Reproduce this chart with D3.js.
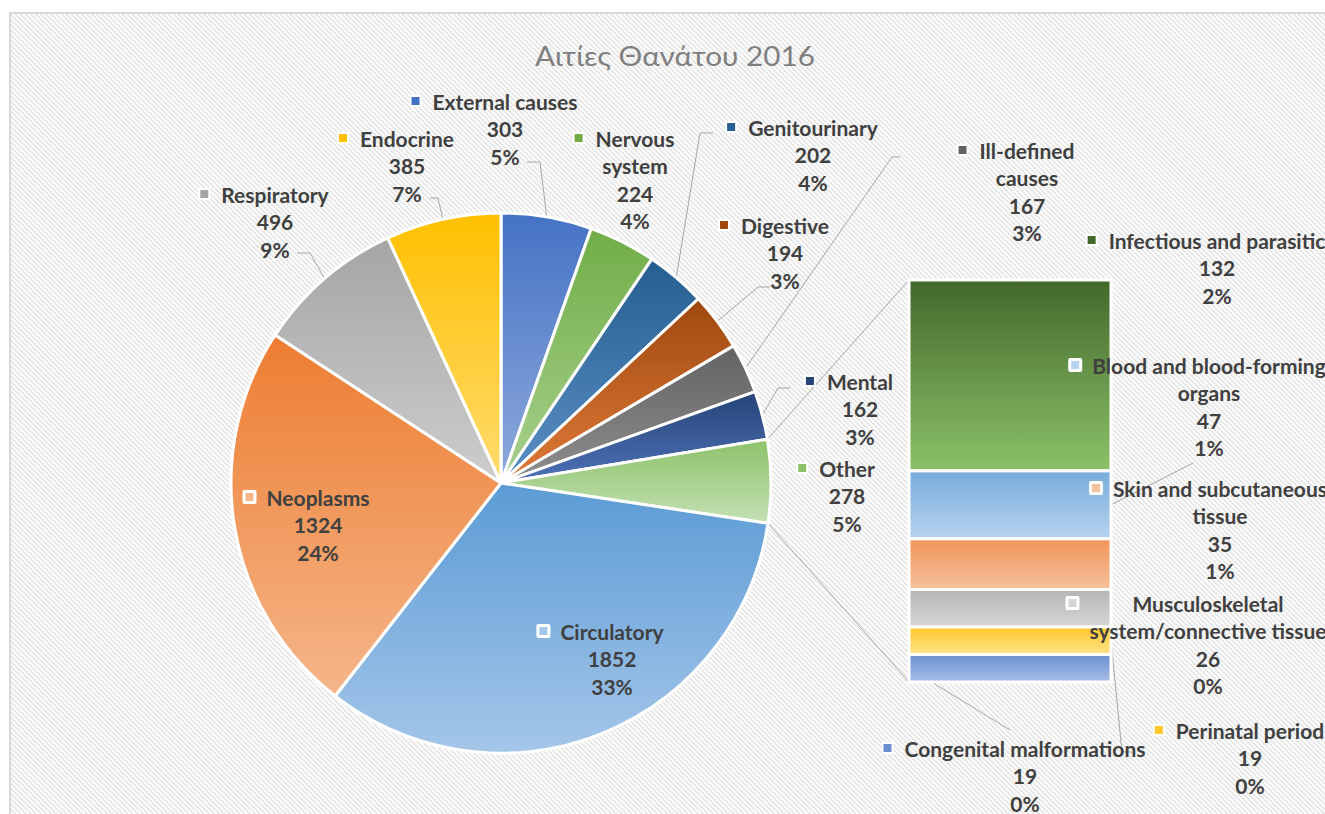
<!DOCTYPE html>
<html>
<head>
<meta charset="utf-8">
<script src="https://cdn.jsdelivr.net/npm/d3@7"></script>
<style>
  body { margin: 0; background: #fff; }
  svg { display: block; }
  text { font-family: Lato, "Open Sans", sans-serif; }
</style>
</head>
<body>
<div id="chart"></div>
<script>
// --- data ---
const title = "Αιτίες Θανάτου 2016";
const pieCategories = ["External causes", "Nervous system", "Genitourinary", "Digestive",
  "Ill-defined causes", "Mental", "Other", "Circulatory", "Neoplasms", "Respiratory", "Endocrine"];
const pieValues = [303, 224, 202, 194, 167, 162, 278, 1852, 1324, 496, 385];
const barCategories = ["Infectious and parasitic", "Blood and blood-forming organs",
  "Skin and subcutaneous tissue", "Musculoskeletal system/connective tissue",
  "Perinatal period", "Congenital malformations"];
const barValues = [132, 47, 35, 26, 19, 19];

// gradient colours, top -> bottom
const pieColors = [
  ["#4472c4", "#8faadc"], ["#70ad47", "#a9d18e"], ["#255e91", "#5b8fc4"], ["#9e480e", "#e07b39"],
  ["#636363", "#8e8e8e"], ["#264478", "#4f72b8"], ["#8cc36a", "#c5e0b4"], ["#5b9bd5", "#a4c6e9"],
  ["#ed7d31", "#f5b68a"], ["#a5a5a5", "#cdcdcd"], ["#ffc000", "#ffdb6e"]
];
const barColors = [
  ["#43682b", "#8bc168"], ["#78acdb", "#b6d3ef"], ["#f0955a", "#f6c09b"],
  ["#b5b5b5", "#d6d6d6"], ["#ffc929", "#ffe28a"], ["#6a8fd0", "#a8bee6"]
];

// label placement (centre of first line), wrapped lines, boxed key, leader elbow points
const labelLayout = {
  "External causes": { x: 505, y: 101, leader: [[540, 162], [527, 162]] },
  "Nervous system": { x: 635, y: 138, lines: ["Nervous", "system"] },
  "Genitourinary": { x: 813, y: 127, leader: [[700, 133], [713, 133]] },
  "Digestive": { x: 785, y: 225, leader: [[758, 287], [770, 287]] },
  "Ill-defined causes": { x: 1027, y: 150, lines: ["Ill-defined", "causes"], leader: [[892, 157], [900, 157]] },
  "Mental": { x: 860, y: 381, leader: [[778, 388], [790, 388]] },
  "Other": { x: 847, y: 468 },
  "Circulatory": { x: 612, y: 631, boxed: true },
  "Neoplasms": { x: 318, y: 497, boxed: true },
  "Respiratory": { x: 275, y: 194, leader: [[310, 253], [297, 253]] },
  "Endocrine": { x: 407, y: 138, leader: [[438, 198], [430, 198]] },
  "Infectious and parasitic": { x: 1217, y: 240 },
  "Blood and blood-forming organs": { x: 1209, y: 365, lines: ["Blood and blood-forming", "organs"], boxed: true, leader: [[1193, 463]] },
  "Skin and subcutaneous tissue": { x: 1220, y: 488, lines: ["Skin and subcutaneous", "tissue"], boxed: true },
  "Musculoskeletal system/connective tissue": { x: 1208, y: 603, lines: ["Musculoskeletal", "system/connective tissue"], boxed: true },
  "Perinatal period": { x: 1250, y: 730, leader: [[1122, 752], [1132, 752]], side: "right" },
  "Congenital malformations": { x: 1025, y: 748, leader: [[1010, 730]], side: "left" }
};

const W = 1325, H = 814;
const cx = 501, cy = 483, R = 270;
const lineH = 27.5;

const svg = d3.select("#chart").append("svg").attr("width", W).attr("height", H);
const defs = svg.append("defs");

// hatched background
const pat = defs.append("pattern").attr("id", "hatch")
  .attr("patternUnits", "userSpaceOnUse").attr("width", 3.6).attr("height", 3.6)
  .attr("patternTransform", "rotate(-45)");
pat.append("rect").attr("width", 3.6).attr("height", 3.6).attr("fill", "#ffffff");
pat.append("rect").attr("width", 1.8).attr("height", 3.6).attr("fill", "#e6e6e6");

svg.append("rect").attr("x", 10).attr("y", 13).attr("width", W).attr("height", H)
  .attr("fill", "url(#hatch)").attr("stroke", "#d9d9d9").attr("stroke-width", 2);

function addGradient(id, c) {
  const g = defs.append("linearGradient").attr("id", id)
    .attr("x1", 0).attr("y1", 0).attr("x2", 0).attr("y2", 1);
  g.append("stop").attr("offset", "0%").attr("stop-color", c[0]);
  g.append("stop").attr("offset", "100%").attr("stop-color", c[1]);
}
pieColors.forEach((c, i) => addGradient("gp" + i, c));
barColors.forEach((c, i) => addGradient("gb" + i, c));

// title
svg.append("text")
  .attr("x", 675).attr("y", 55)
  .attr("text-anchor", "middle").attr("dominant-baseline", "central")
  .attr("font-family", "'Noto Sans', sans-serif").attr("font-size", 27)
  .attr("fill", "#7f7f7f")
  .attr("textLength", 280).attr("lengthAdjust", "spacingAndGlyphs")
  .text(title);

// --- pie ---
const total = d3.sum(pieValues);
const pie = d3.pie().value(d => d).sort(null);
const arcsData = pie(pieValues);
const arc = d3.arc().innerRadius(0).outerRadius(R);
const edge = (a, r) => [cx + r * Math.sin(a), cy - r * Math.cos(a)];

const lines = svg.append("g").attr("fill", "none").attr("stroke", "#a6a6a6").attr("stroke-width", 1);

svg.append("g").attr("transform", `translate(${cx},${cy})`)
  .selectAll("path").data(arcsData).join("path")
  .attr("d", arc)
  .attr("fill", (d, i) => `url(#gp${i})`)
  .attr("stroke", "#fff").attr("stroke-width", 3).attr("stroke-linejoin", "round");

// --- bar of "Other" ---
const barTotal = d3.sum(barValues);
const y = d3.scaleLinear().domain([0, barTotal]).range([280, 682]);
const x = d3.scaleLinear().domain([0, 1]).range([909, 1111]);
const stacked = d3.stack().keys(barCategories.map((c, i) => i))([barValues]).map(s => s[0]);

svg.append("g").selectAll("rect").data(stacked).join("rect")
  .attr("x", x(0)).attr("width", x(1) - x(0))
  .attr("y", d => y(d[0])).attr("height", d => y(d[1]) - y(d[0]))
  .attr("fill", (d, i) => `url(#gb${i})`)
  .attr("stroke", "#fff").attr("stroke-width", 3);

// series lines from "Other" slice to the bar
const other = arcsData[pieCategories.indexOf("Other")];
const line = d3.line();
lines.append("path").attr("d", line([edge(other.startAngle, R), [x(0), y(0)]]));
lines.append("path").attr("d", line([edge(other.endAngle, R), [x(0), y(barTotal)]]));

// --- labels ---
const pct = d3.format(".0%");
const items = pieCategories.map((name, i) => ({
  name, value: pieValues[i], share: pieValues[i] / total, color: pieColors[i],
  anchor: edge((arcsData[i].startAngle + arcsData[i].endAngle) / 2, R)
})).concat(barCategories.map((name, i) => {
  const mid = (y(stacked[i][0]) + y(stacked[i][1])) / 2;
  const side = (labelLayout[name].side === "left") ? x(0) : x(1);
  return { name, value: barValues[i], share: barValues[i] / total, color: barColors[i], anchor: [side, mid] };
}));

items.forEach(it => {
  const L = labelLayout[it.name];
  if (L.leader) lines.append("path").attr("d", line([it.anchor, ...L.leader]));
});

const labelG = svg.append("g").attr("font-size", 21).attr("font-weight", "bold").attr("fill", "#404040");
items.forEach(it => {
  const L = labelLayout[it.name];
  const rows = (L.lines || [it.name]).concat([String(it.value), pct(it.share)]);
  const g = labelG.append("g");
  let left = Infinity;
  rows.forEach((r, k) => {
    const t = g.append("text").attr("x", L.x).attr("y", L.y + k * lineH)
      .attr("text-anchor", "middle").attr("dominant-baseline", "central").text(r);
    left = Math.min(left, L.x - t.node().getComputedTextLength() / 2);
  });
  const mx = left - 17, my = L.y;
  if (L.boxed) {
    g.append("rect").attr("x", mx - 7).attr("y", my - 7).attr("width", 14).attr("height", 14)
      .attr("rx", 2).attr("fill", "#fff");
    g.append("rect").attr("x", mx - 4).attr("y", my - 4).attr("width", 8).attr("height", 8)
      .attr("fill", it.color[1]);
  } else {
    g.append("rect").attr("x", mx - 6).attr("y", my - 6).attr("width", 12).attr("height", 12).attr("fill", "#fff");
    g.append("rect").attr("x", mx - 4).attr("y", my - 4).attr("width", 8).attr("height", 8)
      .attr("fill", it.color[0]);
  }
});
</script>
</body>
</html>
